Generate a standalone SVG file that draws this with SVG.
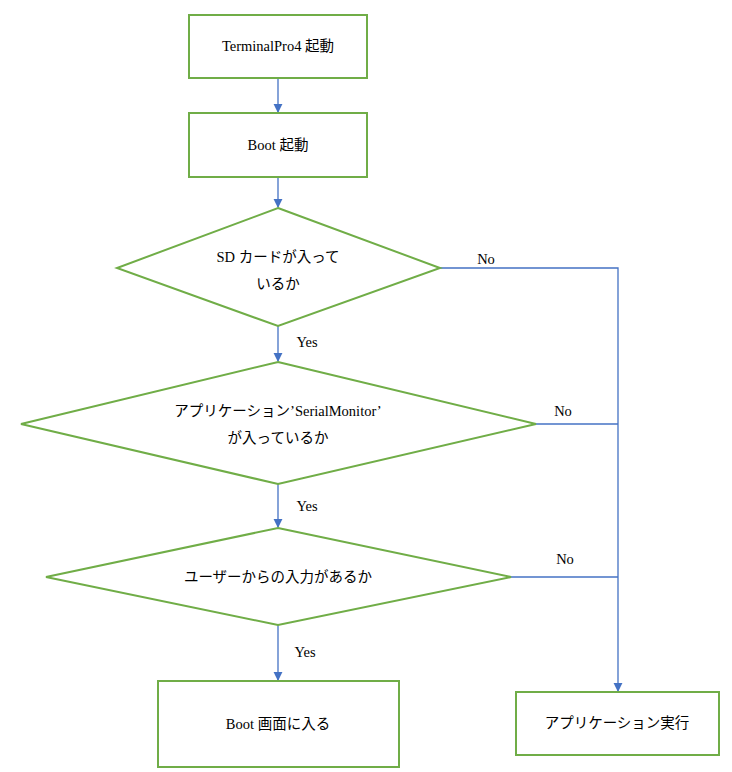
<svg xmlns="http://www.w3.org/2000/svg" width="732" height="772" viewBox="0 0 732 772">
<style>
.n{fill:#fff;stroke:#70AD47;stroke-width:2}
.c{stroke:#4472C4;stroke-width:1.3;fill:none}
text{font-family:'Liberation Serif','Times New Roman','DejaVu Serif','Noto Sans CJK JP',serif;font-size:14.5px;fill:#000;text-anchor:middle}
</style>
<defs><marker id="a" viewBox="0 0 10 10" refX="9" refY="5" markerWidth="7" markerHeight="7" orient="auto"><path d="M0,0L10,5L0,10z" fill="#4472C4"/></marker></defs>
<rect width="732" height="772" fill="#fff"/>
<g id="connectors">
<path class="c" d="M278,78V112" marker-end="url(#a)"/>
<path class="c" d="M278,177V207" marker-end="url(#a)"/>
<path class="c" d="M278,326V361" marker-end="url(#a)"/>
<path class="c" d="M278,484V527" marker-end="url(#a)"/>
<path class="c" d="M278,625V680" marker-end="url(#a)"/>
<path class="c" d="M440,268H618V691" marker-end="url(#a)"/>
<path class="c" d="M536,424H618"/>
<path class="c" d="M511,577H618"/>
<text x="486" y="264">No</text>
<text x="563" y="416">No</text>
<text x="565" y="564">No</text>
<text x="307" y="347">Yes</text>
<text x="307" y="511">Yes</text>
<text x="305" y="657">Yes</text>
</g>
<g id="n1"><rect class="n" x="189" y="15" width="178" height="63"/><text x="278" y="51">TerminalPro4 起動</text></g>
<g id="n2"><rect class="n" x="189" y="113" width="178" height="64"/><text x="278" y="150">Boot 起動</text></g>
<g id="d1"><polygon class="n" points="278,208 440,268 278,326 117,268"/><text x="278" y="262">SD カードが入って</text><text x="278" y="289">いるか</text></g>
<g id="d2"><polygon class="n" points="278,362 536,424 278,484 21,424"/><text x="278" y="416">アプリケーション’SerialMonitor’</text><text x="278" y="443">が入っているか</text></g>
<g id="d3"><polygon class="n" points="278,528 511,577 278,625 46,577"/><text x="278" y="582">ユーザーからの入力があるか</text></g>
<g id="n3"><rect class="n" x="158" y="681" width="241" height="86"/><text x="278" y="729">Boot 画面に入る</text></g>
<g id="n4"><rect class="n" x="516" y="692" width="203" height="63"/><text x="617" y="728">アプリケーション実行</text></g>
</svg>
